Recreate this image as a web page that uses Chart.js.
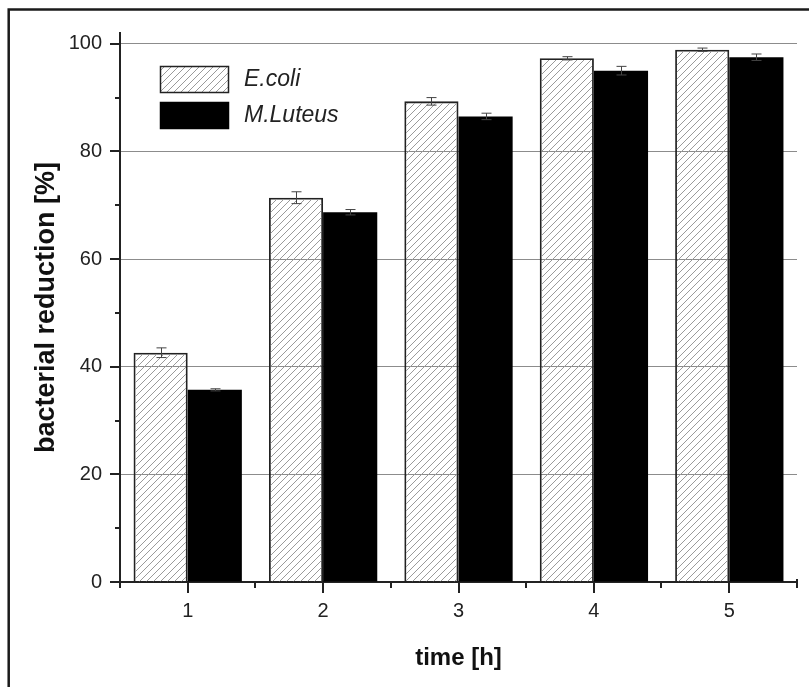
<!DOCTYPE html>
<html>
<head>
<meta charset="utf-8">
<script src="https://cdn.jsdelivr.net/npm/chart.js@4"></script>
<style>
  body { margin: 0; background: #fff; }
  canvas { display: block; }
</style>
</head>
<body>
<canvas id="chart" width="809" height="687"></canvas>
<script>
const timeLabels = ["1", "2", "3", "4", "5"];
const ecoliValues = [42.6, 71.4, 89.3, 97.3, 98.9];
const ecoliErrors = [0.9, 1.1, 0.7, 0.3, 0.3];
const luteusValues = [35.7, 68.7, 86.5, 95.0, 97.5];
const luteusErrors = [0.2, 0.5, 0.6, 0.8, 0.6];
const seriesNames = ["E.coli", "M.Luteus"];
const yTickValues = [0, 10, 20, 30, 40, 50, 60, 70, 80, 90, 100];

const FONT = "'Liberation Sans', Arial, sans-serif";

function hatch() {
  const c = document.createElement("canvas");
  c.width = 7; c.height = 7;
  const g = c.getContext("2d");
  g.strokeStyle = "#9a9a9a";
  g.lineWidth = 1;
  g.beginPath();
  g.moveTo(-1, 8); g.lineTo(8, -1);
  g.moveTo(-8, 8); g.lineTo(1, -1);
  g.moveTo(6, 8); g.lineTo(15, -1);
  g.stroke();
  return g.createPattern(c, "repeat");
}
const hatchFill = hatch();

const frame = {
  id: "frame",
  afterDraw(chart) {
    const ctx = chart.ctx;
    ctx.save();
    ctx.strokeStyle = "#1a1a1a";
    ctx.lineWidth = 2.5;
    ctx.strokeRect(8.7, 9.5, 900, 900);
    ctx.restore();
  }
};

const axisTicks = {
  id: "axisTicks",
  afterDraw(chart) {
    const { ctx, chartArea, scales: { x, y } } = chart;
    ctx.save();
    ctx.strokeStyle = "#222";
    ctx.lineWidth = 2;
    ctx.beginPath();
    y.ticks.forEach(t => {
      const py = Math.round(y.getPixelForValue(t.value));
      const len = t.value % 20 === 0 ? 10 : 5;
      ctx.moveTo(chartArea.left - len, py);
      ctx.lineTo(chartArea.left, py);
    });
    const half = (x.getPixelForValue(1) - x.getPixelForValue(0)) / 2;
    timeLabels.forEach((l, i) => {
      const px = Math.round(x.getPixelForValue(i));
      ctx.moveTo(px, chartArea.bottom);
      ctx.lineTo(px, chartArea.bottom + 11);
      const mx = Math.round(px - half);
      ctx.moveTo(mx, chartArea.bottom);
      ctx.lineTo(mx, chartArea.bottom + 6);
      if (i === timeLabels.length - 1) {
        const ex = Math.round(px + half);
        ctx.moveTo(ex, chartArea.bottom - 3);
        ctx.lineTo(ex, chartArea.bottom + 6);
      }
    });
    ctx.stroke();
    ctx.restore();
  }
};

const errorBars = {
  id: "errorBars",
  afterDatasetsDraw(chart) {
    const ctx = chart.ctx;
    const y = chart.scales.y;
    ctx.save();
    ctx.strokeStyle = "#444";
    ctx.lineWidth = 1;
    chart.data.datasets.forEach((ds, di) => {
      const meta = chart.getDatasetMeta(di);
      meta.data.forEach((bar, i) => {
        const v = ds.data[i], e = ds.errors[i];
        const top = y.getPixelForValue(v + e);
        const bot = y.getPixelForValue(v - e);
        const cx = Math.round(bar.x) + 0.5;
        ctx.beginPath();
        ctx.moveTo(cx, top); ctx.lineTo(cx, bot);
        ctx.moveTo(cx - 5, top); ctx.lineTo(cx + 5, top);
        ctx.moveTo(cx - 5, bot); ctx.lineTo(cx + 5, bot);
        ctx.stroke();
      });
    });
    ctx.restore();
  }
};

const legendBox = {
  id: "legendBox",
  afterDraw(chart) {
    const ctx = chart.ctx;
    ctx.save();
    const rows = [66.5, 102.5];
    chart.data.datasets.forEach((ds, i) => {
      ctx.fillStyle = ds.backgroundColor;
      ctx.fillRect(160.5, rows[i], 68, 26);
      ctx.strokeStyle = ds.borderColor;
      ctx.lineWidth = 1.5;
      ctx.strokeRect(160.5, rows[i], 68, 26);
      ctx.fillStyle = "#222";
      ctx.font = "italic 23px " + FONT;
      ctx.textBaseline = "middle";
      ctx.fillText(ds.label, 244, rows[i] + 13);
    });
    ctx.restore();
  }
};

new Chart(document.getElementById("chart"), {
  type: "bar",
  data: {
    labels: timeLabels,
    datasets: [
      { label: seriesNames[0], data: ecoliValues, errors: ecoliErrors, backgroundColor: hatchFill, borderColor: "#222", borderWidth: 1.8 },
      { label: seriesNames[1], data: luteusValues, errors: luteusErrors, backgroundColor: "#000", borderColor: "#000", borderWidth: 0 }
    ]
  },
  options: {
    responsive: false,
    animation: false,
    barPercentage: 1,
    categoryPercentage: 0.8,
    layout: { padding: { top: 33, right: 12, left: 0, bottom: 0 } },
    plugins: { legend: { display: false }, tooltip: { enabled: false } },
    scales: {
      x: {
        offset: true,
        grid: { display: false, drawTicks: true, tickLength: 11 },
        border: { color: "#222", width: 2 },
        ticks: { color: "#222", font: { family: FONT, size: 20 }, padding: 6 },
        title: { display: true, text: "time [h]", color: "#111", font: { family: FONT, size: 24, weight: "bold" }, padding: { bottom: 14 } },
        afterFit(s) { s.height = 105; }
      },
      y: {
        min: 0,
        max: 102,
        afterBuildTicks(s) { s.ticks = yTickValues.map(v => ({ value: v })); },
        grid: {
          color: c => (c.tick && c.tick.value > 0 && c.tick.value % 20 === 0) ? "#8c8c8c" : "rgba(0,0,0,0)",
          lineWidth: 1,
          drawTicks: true,
          tickLength: 10,
          tickColor: "rgba(0,0,0,0)"
        },
        border: { color: "#222", width: 2 },
        ticks: {
          color: "#222",
          font: { family: FONT, size: 20 },
          padding: 8,
          callback: (v, i) => (yTickValues[i] % 20 === 0 ? yTickValues[i] : "")
        },
        title: { display: true, text: "bacterial reduction [%]", color: "#111", font: { family: FONT, size: 27, weight: "bold" }, padding: { top: 30 } },
        afterFit(s) { s.width = 120; }
      }
    }
  },
  plugins: [errorBars, axisTicks, legendBox, frame]
});
</script>
</body>
</html>
